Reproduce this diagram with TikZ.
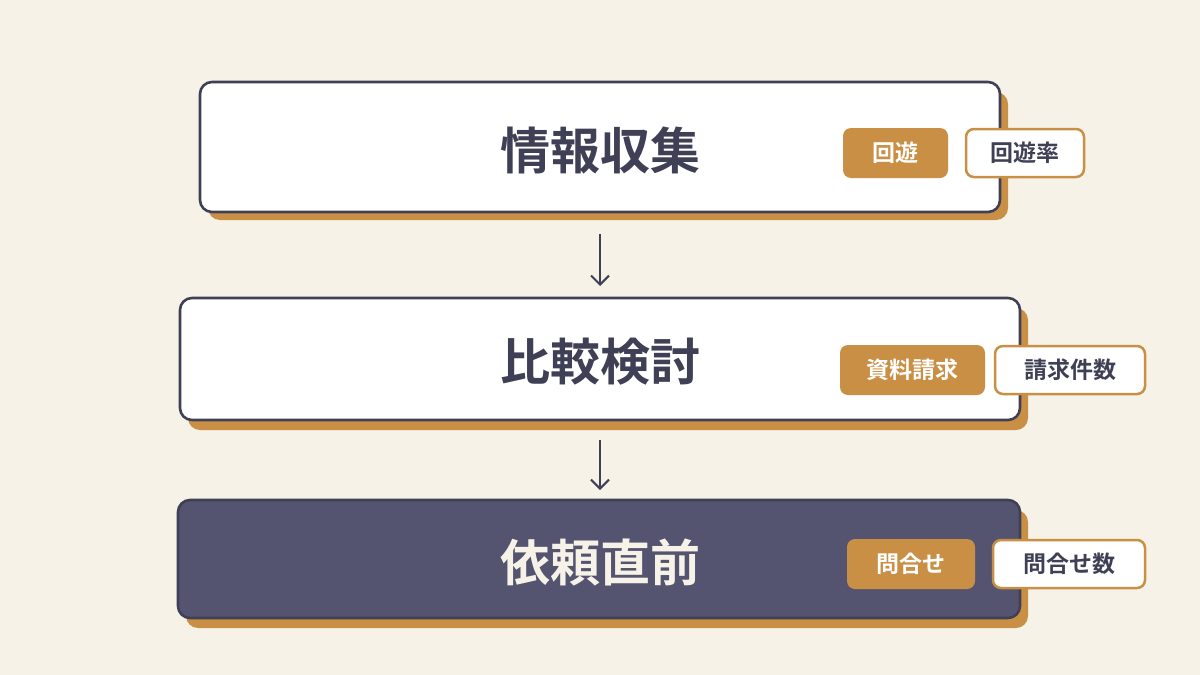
\documentclass[tikz,border=0pt]{standalone}
\usepackage{fontspec}
\newfontfamily\cjk{Noto Sans CJK JP}[BoldFont={Noto Sans CJK JP Bold}]
\usetikzlibrary{arrows.meta}
\definecolor{bg}{HTML}{F6F2E8}
\definecolor{ink}{HTML}{3F3F55}
\definecolor{org}{HTML}{C98F45}
\definecolor{dark}{HTML}{555470}
\begin{document}
\begin{tikzpicture}[x=1pt,y=-1pt,
 stage/.style={draw=ink,line width=2.6pt,rounded corners=12pt},
 shadow/.style={fill=org,rounded corners=12pt},
 title/.style={font=\cjk\bfseries\fontsize{50}{54}\selectfont},
 tagf/.style={fill=org,rounded corners=8pt,text=white,font=\cjk\bfseries\fontsize{23}{25}\selectfont,minimum height=50pt,inner sep=0pt},
 tago/.style={fill=white,draw=org,line width=2.5pt,rounded corners=8pt,text=ink,font=\cjk\bfseries\fontsize{23}{25}\selectfont,minimum height=48pt,inner sep=0pt},
 arr/.style={draw=ink,line width=2pt,-{Straight Barb[length=9pt,width=18pt]}}]
\fill[bg] (0,0) rectangle (1200,675);
\useasboundingbox (0,0) rectangle (1200,675);
% box 1
\fill[shadow] (208,92) rectangle (1008,220);
\draw[stage,fill=white] (200,82) rectangle (1000,212);
\node[title,text=ink] (s1) at (600,150) {情報収集};
\node[tagf,minimum width=105pt] (t1) at (895.5,153) {回遊};
\node[tago,minimum width=118pt] (m1) at (1025,153) {回遊率};
% box 2
\fill[shadow] (188,308) rectangle (1028,430);
\draw[stage,fill=white] (180,298) rectangle (1020,420);
\node[title,text=ink] (s2) at (600,362) {比較検討};
\node[tagf,minimum width=145pt] (t2) at (912.5,370) {資料請求};
\node[tago,minimum width=150pt] (m2) at (1070,370) {請求件数};
% box 3
\fill[shadow] (186,510) rectangle (1028,628);
\draw[stage,fill=dark] (178,500) rectangle (1020,618);
\node[title,text=bg] (s3) at (600,562) {依頼直前};
\node[tagf,minimum width=128pt] (t3) at (911,564) {問合せ};
\node[tago,minimum width=152pt] (m3) at (1069,564) {問合せ数};
\coordinate (a1) at (600,234); \coordinate (b1) at (600,286);
\coordinate (a2) at (600,440); \coordinate (b2) at (600,490);
\draw[arr] (a1) -- (b1);
\draw[arr] (a2) -- (b2);
\end{tikzpicture}
\end{document}
